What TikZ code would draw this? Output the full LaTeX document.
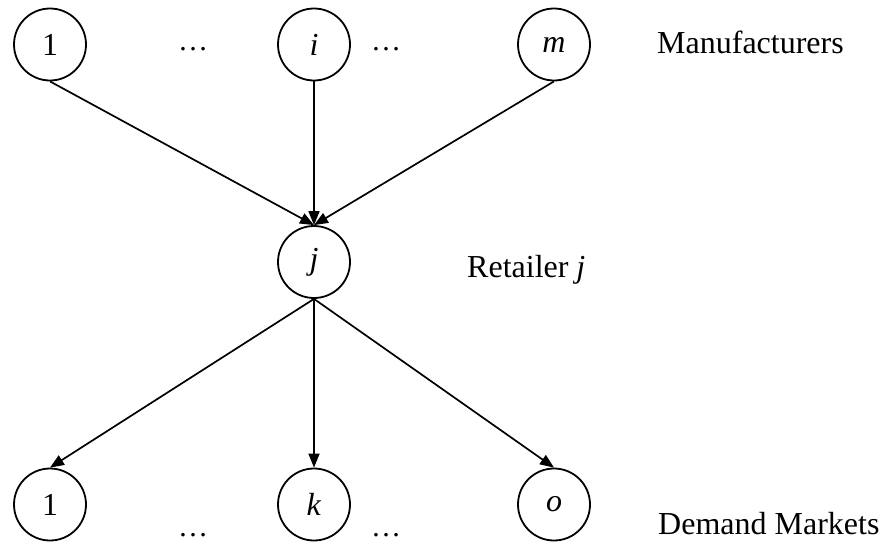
\documentclass[tikz,border=0pt]{standalone}
\usepackage{fontspec}
\setmainfont{Liberation Serif}
\usetikzlibrary{arrows.meta}
\tikzset{
  nd/.style={circle, draw, line width=1.8pt, minimum size=72pt, inner sep=0pt,
    font=\fontsize{32}{34}\selectfont},
  lbl/.style={anchor=base west, inner sep=0pt, font=\fontsize{32}{38}\selectfont},
  dots/.style={anchor=base, inner sep=0pt, font=\fontsize{30}{34}\selectfont},
  arr/.style={line width=1.7pt, -{Triangle[length=14pt,width=11pt]}}
}
\begin{document}
\begin{tikzpicture}[x=1pt,y=-1pt]
\useasboundingbox (0,0) rectangle (883,544);
% manufacturers
\node[nd] (m1) at (50,44.5) {1};
\node[nd] (mi) at (314,44.5) {\textit{i}};
\node[nd] (mm) at (554,44.5) {\textit{m}};
% retailer
\node[nd] (r) at (314,262) {\textit{j}};
% demand markets
\node[nd] (d1) at (50,504.5) {1};
\node[nd] (dk) at (314,504.5) {\textit{k}};
\node[nd] (do) at (554,504.5) {\textit{o}};
% ellipses
\node[dots] (e1) at (193,50) {…};
\node[dots] (e2) at (386,50) {…};
\node[dots] (e3) at (193,536) {…};
\node[dots] (e4) at (386,536) {…};
% labels
\node[lbl] (lm) at (657,53) {Manufacturers};
\node[lbl] (lr) at (467,277) {Retailer \textit{j}};
\node[lbl] (ld) at (658,534) {Demand Markets};
% arrows
\draw[arr] (m1.south) -- (r.north);
\draw[arr] (mi.south) -- (r.north);
\draw[arr] (mm.south) -- (r.north);
\draw[arr] (r.south) -- (d1.north);
\draw[arr] (r.south) -- (dk.north);
\draw[arr] (r.south) -- (do.north);
\end{tikzpicture}
\end{document}
